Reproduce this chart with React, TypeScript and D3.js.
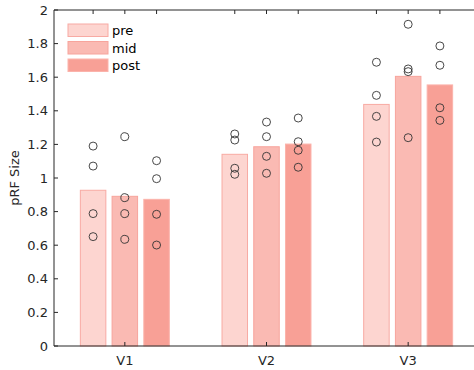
import React, { useEffect, useRef } from "react";
import * as d3 from "d3";

const regions = ["V1", "V2", "V3"];
const phases = ["pre", "mid", "post"];

// bar heights (mean pRF size) per region, in phase order
const meanPre = [0.927, 1.141, 1.438];
const meanMid = [0.891, 1.186, 1.605];
const meanPost = [0.873, 1.202, 1.554];

// individual subjects, [region][phase][subject]
const subjectsV1 = [
  [1.19, 1.071, 0.788, 0.651],
  [1.246, 0.883, 0.788, 0.635],
  [1.103, 0.996, 0.784, 0.601],
];
const subjectsV2 = [
  [1.262, 1.226, 1.058, 1.022],
  [1.333, 1.246, 1.129, 1.028],
  [1.357, 1.216, 1.165, 1.064],
];
const subjectsV3 = [
  [1.689, 1.492, 1.367, 1.214],
  [1.915, 1.649, 1.633, 1.24],
  [1.786, 1.671, 1.418, 1.343],
];

const yTicks = [0, 0.2, 0.4, 0.6, 0.8, 1, 1.2, 1.4, 1.6, 1.8, 2];

const fills = ["#fdd5d0", "#fabab3", "#f8a096"];
const edges = ["#f8aaa3", "#f7a49c", "#fbb3ab"];

const App = () => {
  const svgRef = useRef<SVGSVGElement>(null);

  useEffect(() => {
    const width = 474;
    const height = 370;
    const margin = { left: 54, top: 10, bottom: 24 };
    const axisColor = "#262626";
    const font = "DejaVu Sans, sans-serif";

    const svg = d3.select(svgRef.current);
    svg.selectAll("*").remove();
    svg.attr("width", width).attr("height", height);

    const x = d3.scaleLinear().domain([0.5, 3.5]).range([margin.left, 479]);
    const y = d3.scaleLinear().domain([0, 2]).range([height - margin.bottom, margin.top]);
    const offset = 0.224;
    const barW = x(0.68) - x(0.5);

    const means = [meanPre, meanMid, meanPost];
    const subjects = [subjectsV1, subjectsV2, subjectsV3];

    // bars
    const barData = regions.flatMap((r, ri) =>
      phases.map((p, pi) => ({ ri, pi, value: means[pi][ri], cx: ri + 1 + (pi - 1) * offset }))
    );
    svg
      .append("g")
      .selectAll("rect")
      .data(barData)
      .enter()
      .append("rect")
      .attr("x", (d) => x(d.cx) - barW / 2)
      .attr("y", (d) => y(d.value))
      .attr("width", barW)
      .attr("height", (d) => y(0) - y(d.value))
      .attr("fill", (d) => fills[d.pi])
      .attr("stroke", (d) => edges[d.pi])
      .attr("stroke-width", 1);

    // subject circles
    const dots = barData.flatMap((b) => subjects[b.ri][b.pi].map((v) => ({ cx: b.cx, v })));
    svg
      .append("g")
      .selectAll("circle")
      .data(dots)
      .enter()
      .append("circle")
      .attr("cx", (d) => x(d.cx))
      .attr("cy", (d) => y(d.v))
      .attr("r", 4)
      .attr("fill", "none")
      .attr("stroke", "#333")
      .attr("stroke-width", 0.9);

    // axes box
    const ax = svg.append("g").attr("stroke", axisColor).attr("stroke-width", 1).attr("fill", "none");
    ax.append("line").attr("x1", x(0.5)).attr("x2", x(3.5)).attr("y1", y(0)).attr("y2", y(0));
    ax.append("line").attr("x1", x(0.5)).attr("x2", x(3.5)).attr("y1", y(2)).attr("y2", y(2));
    ax.append("line").attr("x1", x(0.5)).attr("x2", x(0.5)).attr("y1", y(0)).attr("y2", y(2));

    // y ticks
    yTicks.forEach((t) => {
      ax.append("line").attr("x1", x(0.5)).attr("x2", x(0.5) + 4).attr("y1", y(t)).attr("y2", y(t));
    });
    // bottom ticks at region centres, top ticks at each bar
    regions.forEach((r, i) => {
      ax.append("line").attr("x1", x(i + 1)).attr("x2", x(i + 1)).attr("y1", y(0)).attr("y2", y(0) - 4);
    });
    barData.forEach((b) => {
      ax.append("line").attr("x1", x(b.cx)).attr("x2", x(b.cx)).attr("y1", y(2)).attr("y2", y(2) + 4);
    });

    const txt = svg.append("g").attr("font-family", font).attr("font-size", 13).attr("fill", axisColor);
    txt
      .selectAll(".yl")
      .data(yTicks)
      .enter()
      .append("text")
      .attr("x", x(0.5) - 6)
      .attr("y", (d) => y(d))
      .attr("dy", "0.35em")
      .attr("text-anchor", "end")
      .text((d) => String(d));
    txt
      .selectAll(".xl")
      .data(regions)
      .enter()
      .append("text")
      .attr("x", (d, i) => x(i + 1))
      .attr("y", 365)
      .attr("text-anchor", "middle")
      .text((d) => d);
    txt
      .append("text")
      .attr("transform", `translate(19, ${(y(0) + y(2)) / 2}) rotate(-90)`)
      .attr("text-anchor", "middle")
      .text("pRF Size");

    // legend
    const lg = svg.append("g").attr("transform", "translate(68, 24)");
    phases.forEach((p, i) => {
      lg.append("rect")
        .attr("x", 0)
        .attr("y", i * 17.5)
        .attr("width", 40)
        .attr("height", 12.5)
        .attr("fill", fills[i])
        .attr("stroke", edges[i]);
      lg.append("text")
        .attr("x", 44)
        .attr("y", i * 17.5 + 6.5)
        .attr("dy", "0.35em")
        .attr("font-family", font)
        .attr("font-size", 13)
        .attr("fill", "#000")
        .text(p);
    });
  }, []);

  return (
    <svg ref={svgRef} style={{ position: "absolute", left: 0, top: 0 }}></svg>
  );
};

export default App;
